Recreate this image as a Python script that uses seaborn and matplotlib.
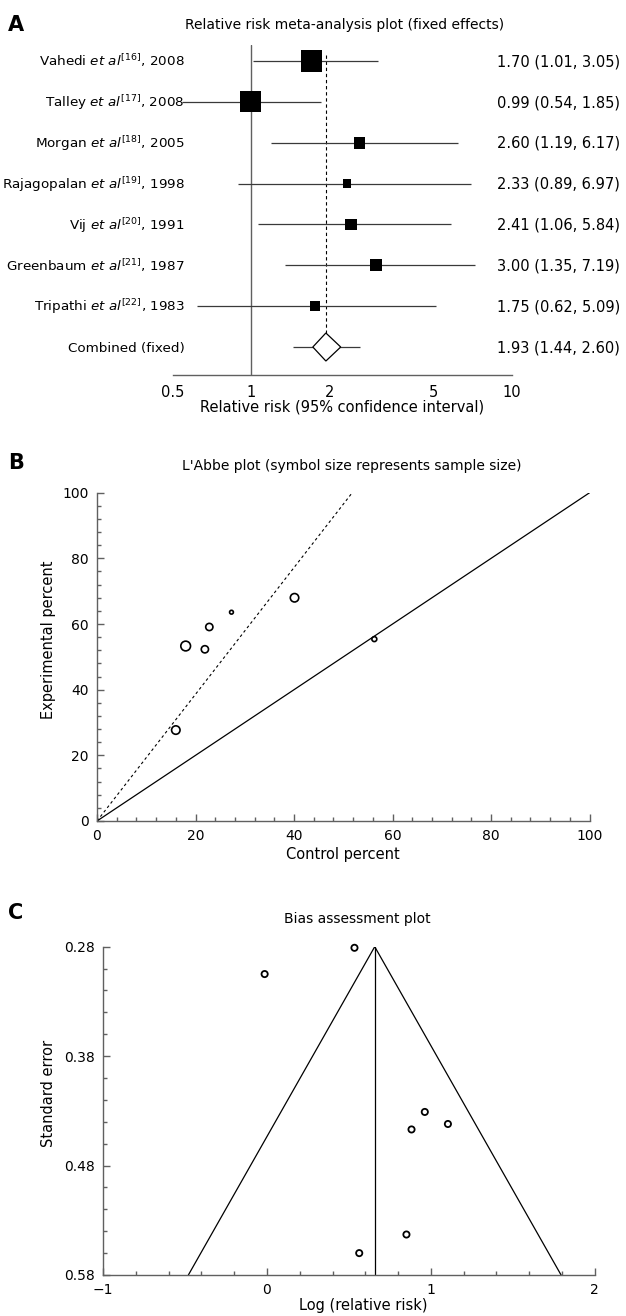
import numpy as np
import pandas as pd
import matplotlib
matplotlib.use("Agg")
import matplotlib.pyplot as plt
import matplotlib.transforms as mtransforms
import seaborn as sns

# ---------------- data ----------------
studies = [r"Vahedi $\mathit{et\ al}^{[16]}$, 2008",
           r"Talley $\mathit{et\ al}^{[17]}$, 2008",
           r"Morgan $\mathit{et\ al}^{[18]}$, 2005",
           r"Rajagopalan $\mathit{et\ al}^{[19]}$, 1998",
           r"Vij $\mathit{et\ al}^{[20]}$, 1991",
           r"Greenbaum $\mathit{et\ al}^{[21]}$, 1987",
           r"Tripathi $\mathit{et\ al}^{[22]}$, 1983"]
rr = [1.70, 0.99, 2.60, 2.33, 2.41, 3.00, 1.75]
rr_lo = [1.01, 0.54, 1.19, 0.89, 1.06, 1.35, 0.62]
rr_hi = [3.05, 1.85, 6.17, 6.97, 5.84, 7.19, 5.09]
combined_label = "Combined (fixed)"
combined_rr = 1.93
combined_lo = 1.44
combined_hi = 2.60
diamond_ends = [1.72, 2.20]
forest_ticks = [0.5, 1, 2, 5, 10]
forest_ticklabels = ["0.5", "1", "2", "5", "10"]

labbe_control = [16.0, 18.0, 21.9, 22.8, 27.3, 40.1, 56.3]
labbe_experimental = [27.7, 53.3, 52.3, 59.1, 63.6, 68.0, 55.4]

bias_logrr = [0.534, -0.014, 0.963, 1.104, 0.882, 0.851, 0.563]
bias_se = [0.281, 0.305, 0.431, 0.442, 0.447, 0.543, 0.560]
se_top, se_bottom = 0.28, 0.58

# ---------------- styles ----------------
box_pt = [15.8, 15.1, 8.4, 5.9, 8.5, 8.4, 7.4]        # square side, points
labbe_s = [37, 49, 27, 27, 7.5, 37, 12.5]            # marker area, pt^2
GRAY = "#606060"
LINE = "#3a3a3a"

sns.set_theme(style="white")
plt.rcParams["font.family"] = ["DejaVu Sans"]
plt.rcParams["mathtext.fontset"] = "dejavusans"
plt.rcParams["text.color"] = "black"
plt.rcParams["axes.labelcolor"] = "black"
plt.rcParams["axes.edgecolor"] = GRAY
plt.rcParams["axes.linewidth"] = 1.0

W, H = 626, 1316
fig = plt.figure(figsize=(W / 100, H / 100), dpi=100)
fig.patch.set_facecolor("white")


def ax_px(left, right, top, bottom):
    return fig.add_axes([left / W, 1 - bottom / H, (right - left) / W, (bottom - top) / H])


def ftext(x, y, s, **kw):
    fig.text(x / W, 1 - y / H, s, **kw)


# ================= Panel A: forest plot =================
axA = ax_px(172.9, 512.2, 45, 375)
nrow = len(studies)
rows = list(range(nrow))
axA.set_xscale("log")
axA.set_xlim(0.5, 10)
axA.set_ylim(nrow + 0.685, -0.39)

# reference lines
axA.axvline(1, color=GRAY, lw=1.0, zorder=1)
axA.plot([combined_rr, combined_rr], [-0.147, nrow - 0.343], color="black",
         lw=0.8, ls=(0, (3, 2.5)), zorder=1)

# CIs
axA.hlines(rows, rr_lo, rr_hi, color=LINE, lw=0.9, zorder=2)
axA.hlines([nrow], [combined_lo], [combined_hi], color=LINE, lw=0.9, zorder=2)

dfA = pd.DataFrame({"rr": rr, "row": rows, "study": [str(i) for i in rows]})
sns.scatterplot(data=dfA, x="rr", y="row", size="study",
                sizes={str(i): box_pt[i] ** 2 for i in rows},
                marker="s", color="black", edgecolor="none", linewidth=0,
                legend=False, ax=axA, zorder=3)

# diamond
dx = [diamond_ends[0], combined_rr, diamond_ends[1], combined_rr]
dy = [nrow, nrow - 0.343, nrow, nrow + 0.343]
axA.fill(dx, dy, facecolor="white", edgecolor="black", lw=0.9, zorder=4)

axA.set_xticks(forest_ticks)
axA.set_xticklabels(forest_ticklabels)
axA.xaxis.set_minor_locator(matplotlib.ticker.NullLocator())
axA.set_yticks([])
for sp in ["top", "right", "left"]:
    axA.spines[sp].set_visible(False)
axA.tick_params(axis="x", direction="in", length=5, width=1.0, color=GRAY,
                pad=7, labelsize=10.5, labelcolor="black")
axA.set_xlabel("Relative risk (95% confidence interval)", fontsize=10.5,
               labelpad=0, color="black")
axA.set_ylabel("")

trA = mtransforms.blended_transform_factory(fig.transFigure, axA.transData)
all_labels = studies + [combined_label]
all_vals = [f"{r:.2f} ({l:.2f}, {h:.2f})" for r, l, h in zip(rr, rr_lo, rr_hi)] + \
           [f"{combined_rr:.2f} ({combined_lo:.2f}, {combined_hi:.2f})"]
for i, (lab, val) in enumerate(zip(all_labels, all_vals)):
    axA.text(184.5 / W, i + 0.13, lab, transform=trA, ha="right", va="baseline",
             fontsize=9.7, color="black", clip_on=False)
    axA.text(497 / W, i + 0.13, val, transform=trA, ha="left", va="baseline",
             fontsize=10.5, color="black", clip_on=False)

ftext(345, 25, "Relative risk meta-analysis plot (fixed effects)", ha="center",
      va="center", fontsize=10)
ftext(8, 25, "A", ha="left", va="center", fontsize=15, fontweight="bold")

# ================= Panel B: L'Abbe plot =================
axB = ax_px(97.0, 589.6, 492.7, 821)
axB.set_xlim(0, 100)
axB.set_ylim(0, 100)
line_x = np.array([0, 100])
sns.lineplot(x=line_x, y=line_x, color="black", lw=0.9, ax=axB)
dash_x = np.array([0, 100 / combined_rr])
sns.lineplot(x=dash_x, y=dash_x * combined_rr, color="black", lw=0.8,
             ax=axB, linestyle=(0, (2.5, 2.5)))
dfB = pd.DataFrame({"c": labbe_control, "e": labbe_experimental,
                    "k": [str(i) for i in range(len(labbe_control))]})
sns.scatterplot(data=dfB, x="c", y="e", size="k",
                sizes={str(i): labbe_s[i] for i in range(len(labbe_s))},
                marker="o", facecolor="none", edgecolor="black", linewidth=1.2,
                legend=False, ax=axB, zorder=5)
axB.set_xticks(np.arange(0, 101, 20))
axB.set_yticks(np.arange(0, 101, 20))
axB.xaxis.set_minor_locator(matplotlib.ticker.MultipleLocator(4))
axB.yaxis.set_minor_locator(matplotlib.ticker.MultipleLocator(4))
for sp in ["top", "right"]:
    axB.spines[sp].set_visible(False)
axB.tick_params(which="major", direction="in", length=5, width=1.0, color=GRAY,
                pad=6, labelsize=10, labelcolor="black")
axB.tick_params(which="minor", direction="in", length=3, width=1.0, color=GRAY)
axB.tick_params(axis="x", which="both", bottom=True)
axB.tick_params(axis="y", which="both", left=True)
axB.set_xlabel("Control percent", fontsize=10.5, labelpad=3, color="black")
axB.set_ylabel("Experimental percent", fontsize=10.5, color="black")
axB.yaxis.set_label_coords(-41 / 492.6, 0.551)
ftext(352, 466, "L'Abbe plot (symbol size represents sample size)", ha="center",
      va="center", fontsize=10)
ftext(8, 463, "B", ha="left", va="center", fontsize=15, fontweight="bold")

# ================= Panel C: bias assessment (funnel) =================
axC = ax_px(103.0, 594.8, 946.7, 1275)
axC.set_xlim(-1, 2)
axC.set_ylim(se_bottom, se_top)
pooled = np.log(combined_rr)
half = 1.96 * se_bottom
fx = np.array([pooled - half, pooled, pooled + half])
fy = np.array([se_bottom, se_top, se_bottom])
axC.plot(fx, fy, color="black", lw=0.9, zorder=2)
axC.plot([pooled, pooled], [se_top, se_bottom], color="black", lw=0.9, zorder=2)
dfC = pd.DataFrame({"x": bias_logrr, "se": bias_se})
sns.scatterplot(data=dfC, x="x", y="se", marker="o", s=20, facecolor="none",
                edgecolor="black", linewidth=1.3, legend=False, ax=axC, zorder=5,
                clip_on=False)
axC.set_xticks([-1, 0, 1, 2])
axC.set_yticks([0.28, 0.38, 0.48, 0.58])
axC.set_yticklabels(["0.28", "0.38", "0.48", "0.58"])
axC.xaxis.set_minor_locator(matplotlib.ticker.MultipleLocator(0.2))
axC.yaxis.set_minor_locator(matplotlib.ticker.MultipleLocator(0.02))
for sp in ["top", "right"]:
    axC.spines[sp].set_visible(False)
axC.tick_params(which="major", direction="in", length=5, width=1.0, color=GRAY,
                pad=6, labelsize=10, labelcolor="black")
axC.tick_params(which="minor", direction="in", length=3, width=1.0, color=GRAY)
axC.tick_params(axis="x", which="both", bottom=True)
axC.tick_params(axis="y", which="both", left=True)
axC.set_xlabel("Log (relative risk)", fontsize=10.5, labelpad=3, color="black")
axC.xaxis.set_label_coords(0.53, -0.07)
axC.set_ylabel("Standard error", fontsize=10.5, color="black")
axC.yaxis.set_label_coords(-47 / 491.8, 0.554)
ftext(357, 919, "Bias assessment plot", ha="center", va="center", fontsize=10)
ftext(8, 913, "C", ha="left", va="center", fontsize=15, fontweight="bold")

fig.savefig("out.png", dpi=100, facecolor="white")
